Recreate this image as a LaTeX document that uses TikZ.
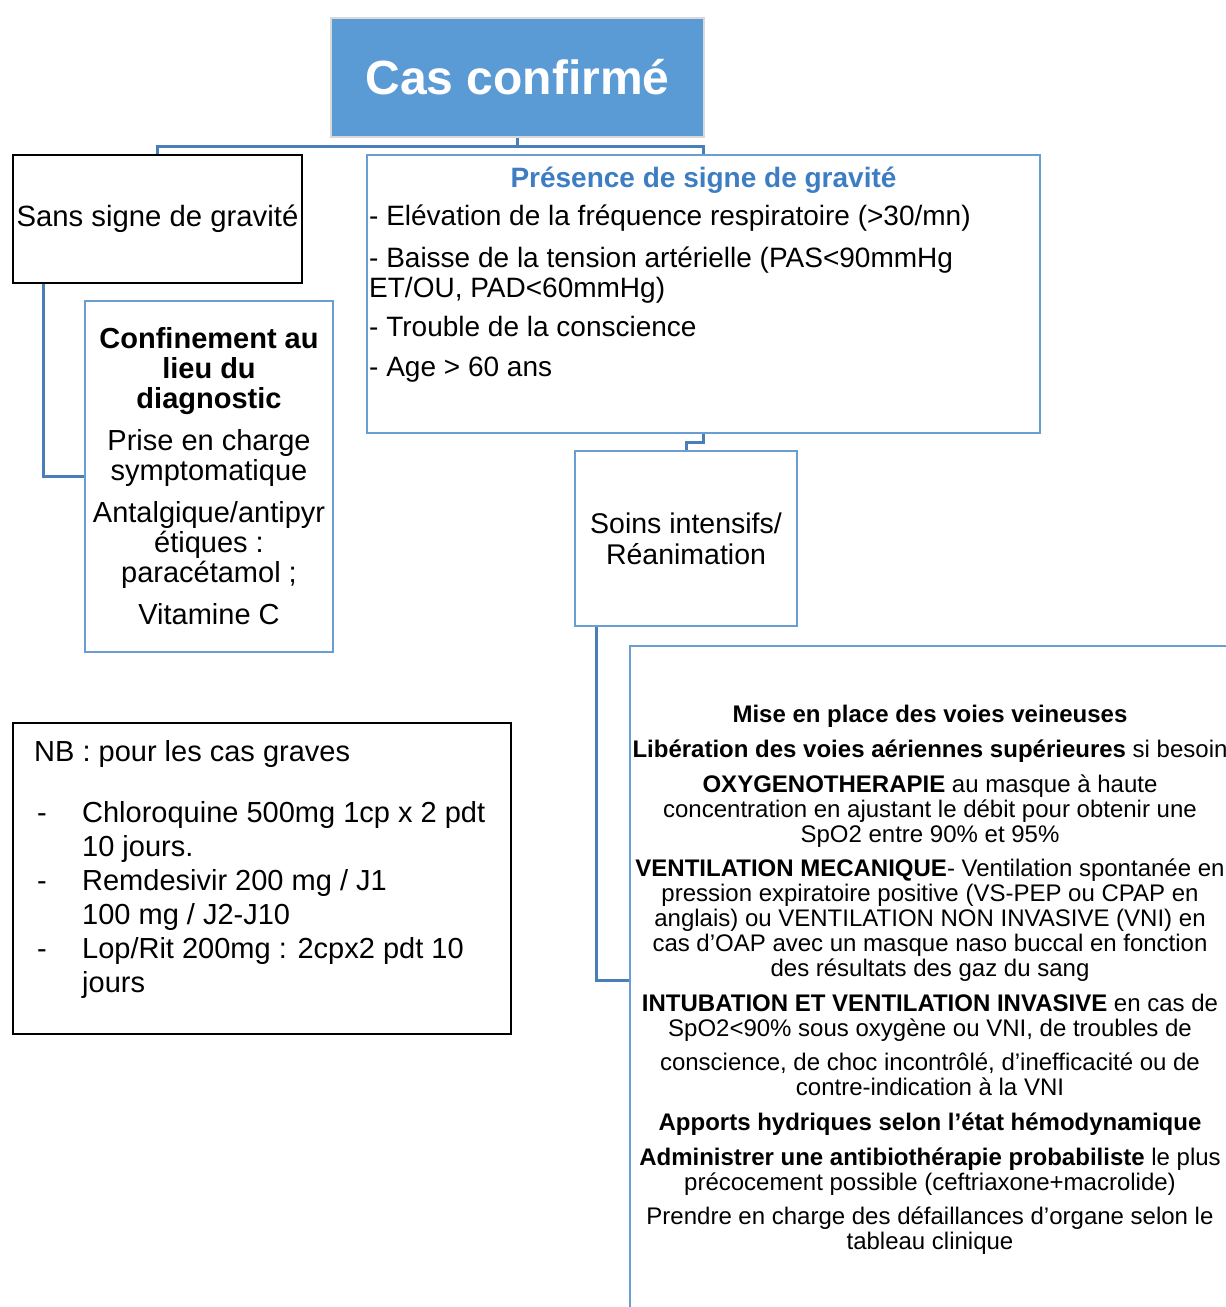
\documentclass[tikz,border=0pt]{standalone}
\usepackage{fontspec}
\setmainfont{Liberation Sans}
\usetikzlibrary{positioning,calc}
\definecolor{casblue}{HTML}{5B9BD5}
\definecolor{boxblue}{HTML}{6A9ED2}
\definecolor{linkblue}{HTML}{4A7EBB}
\definecolor{titleblue}{HTML}{3C7DC3}
\tikzset{
  topbox/.style   = {draw=black!15, line width=1.5pt, fill=casblue, rectangle,
                     inner sep=0pt, text=white, font=\fontsize{48}{50}\selectfont\bfseries},
  blackbox/.style = {draw=black, line width=2pt, rectangle, inner sep=0pt, align=center},
  bluebox/.style  = {draw=boxblue, line width=2.4pt, rectangle, inner sep=0pt, align=center},
  link/.style     = {draw=linkblue, line width=3pt},
}
\newcommand{\dashitem}{\hspace*{3pt}\makebox[45pt][l]{-}}
\newcommand{\noitem}{\hspace*{48pt}}

\begin{document}
\begin{tikzpicture}[x=1pt,y=-1pt]
\useasboundingbox (0,0) rectangle (1226,1307);
\clip (0,0) rectangle (1226,1307);
% ---- top ----
\node[topbox, minimum width=373pt, minimum height=119pt] (cas) at (517.5,77.5) {Cas confirmé};
\node[blackbox, minimum width=289pt, minimum height=128pt,
      font=\fontsize{29.3}{31}\selectfont] (sans) at (157.5,219) {Sans signe de gravité};
\node[bluebox, minimum width=673pt, minimum height=278pt] (pres) at (703.5,294) {};
\node[anchor=base, text=titleblue, font=\fontsize{28}{30}\selectfont\bfseries]
  (prestitle) at (703.5,187) {Présence de signe de gravité};
\node[anchor=north west, inner sep=0pt, align=left, font=\fontsize{28}{30}\selectfont]
  (preslist) at (369,205) {- Elévation de la fréquence respiratoire (>30/mn)\\[12pt]
  - Baisse de la tension artérielle (PAS<90mmHg\\
  ET/OU, PAD<60mmHg)\\[9pt]
  - Trouble de la conscience\\[10pt]
  - Age > 60 ans};
% ---- left branch ----
\node[bluebox, minimum width=248pt, minimum height=351pt,
      font=\fontsize{29}{30}\selectfont] (conf) at (209,476.5)
  {\textbf{Confinement au}\\ \textbf{lieu du}\\ \textbf{diagnostic}\\[12pt]
   Prise en charge\\ symptomatique\\[12pt]
   Antalgique/antipyr\\ étiques :\\ paracétamol ;\\[12pt]
   Vitamine C};
% ---- right branch ----
\node[bluebox, minimum width=222pt, minimum height=175pt,
      font=\fontsize{28.5}{31}\selectfont] (soins) at (686,538.5)
  {Soins intensifs/\\ Réanimation};
\node[bluebox, minimum width=600pt, minimum height=668pt,
      font=\fontsize{24}{25}\selectfont] (rea) at (930,980)
  {\textbf{Mise en place des voies veineuses}\\[9.5pt]
   \textbf{Libération des voies aériennes supérieures} si besoin\\[10pt]
   \textbf{OXYGENOTHERAPIE} au masque à haute\\
   concentration en ajustant le débit pour obtenir une\\
   SpO2 entre 90\% et 95\%\\[9.5pt]
   \textbf{VENTILATION MECANIQUE}- Ventilation spontanée en\\
   pression expiratoire positive (VS-PEP ou CPAP en\\
   anglais) ou VENTILATION NON INVASIVE (VNI) en\\
   cas d’OAP avec un masque naso buccal en fonction\\
   des résultats des gaz du sang\\[9.5pt]
   \textbf{INTUBATION ET VENTILATION INVASIVE} en cas de\\
   SpO2<90\% sous oxygène ou VNI, de troubles de\\[9.5pt]
   conscience, de choc incontrôlé, d’inefficacité ou de\\
   contre-indication à la VNI\\[10pt]
   \textbf{Apports hydriques selon l’état hémodynamique}\\[9.5pt]
   \textbf{Administrer une antibiothérapie probabiliste} le plus\\
   précocement possible (ceftriaxone+macrolide)\\[9.5pt]
   Prendre en charge des défaillances d’organe selon le\\
   tableau clinique};
% ---- note ----
\node[blackbox, minimum width=498pt, minimum height=311pt] (nb) at (262,878.5) {};
\node[anchor=north west, inner sep=0pt, align=left, font=\fontsize{29}{34}\selectfont]
  (nbtext) at (34,740) {NB : pour les cas graves\\[27pt]
  \dashitem Chloroquine 500mg 1cp x 2 pdt\\
  \noitem 10 jours.\\
  \dashitem Remdesivir 200 mg / J1\\
  \noitem 100 mg / J2-J10\\
  \dashitem Lop/Rit 200mg : 2cpx2 pdt 10\\
  \noitem jours};
% ---- connectors ----
\draw[link] (cas.south) -- ++(0,9) coordinate (hub);
\draw[link] (sans.north) |- (hub) -| (pres.north);
\draw[link] ([xshift=31pt]sans.south west) |- (conf.west);
\draw[link] (pres.south) -- ++(0,8) -| (soins.north);
\draw[link] ([xshift=23pt]soins.south west) |- (rea.west);
\end{tikzpicture}
\end{document}
